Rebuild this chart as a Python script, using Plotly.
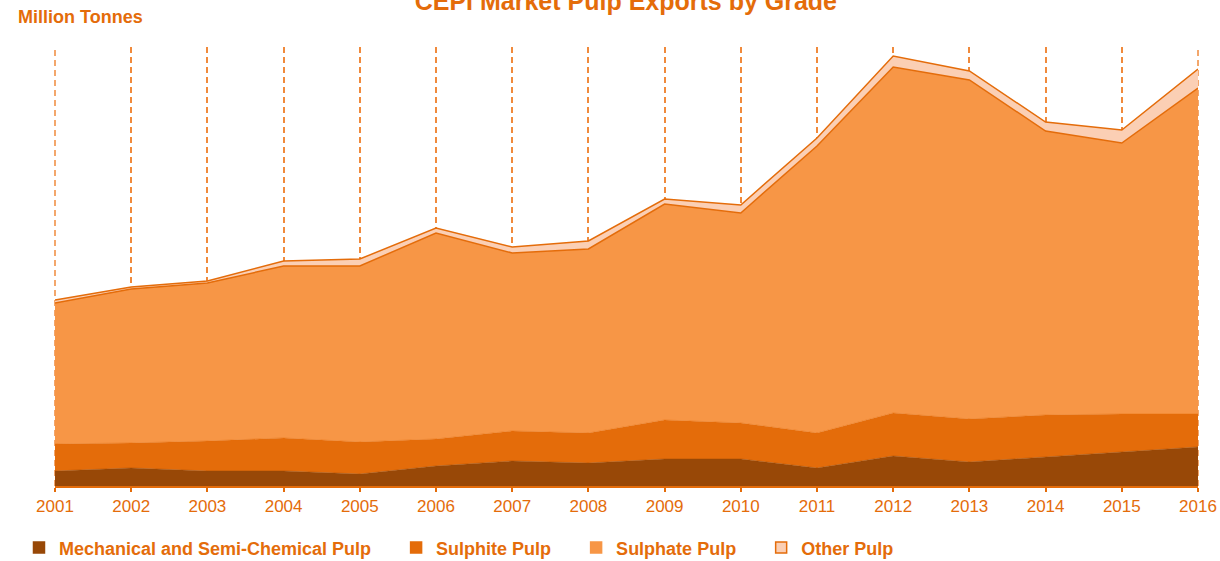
import plotly.graph_objects as go

years = list(range(2001, 2017))
mechanical = [0.15, 0.18, 0.15, 0.15, 0.12, 0.20, 0.25, 0.23, 0.27, 0.27, 0.18, 0.30, 0.24, 0.29, 0.34, 0.39]
sulphite = [0.27, 0.25, 0.30, 0.33, 0.32, 0.27, 0.30, 0.30, 0.39, 0.36, 0.35, 0.43, 0.43, 0.42, 0.38, 0.33]
sulphate = [1.41, 1.54, 1.58, 1.72, 1.76, 2.06, 1.78, 1.84, 2.16, 2.10, 2.87, 3.46, 3.39, 2.84, 2.71, 3.26]
other = [0.03, 0.02, 0.02, 0.05, 0.07, 0.05, 0.06, 0.08, 0.05, 0.08, 0.08, 0.11, 0.09, 0.09, 0.13, 0.19]

names = ["Mechanical and Semi-Chemical Pulp", "Sulphite Pulp", "Sulphate Pulp", "Other Pulp"]
fills = ["#984807", "#E46C0A", "#F79646", "#FBCFB4"]
lines = ["#984807", "#E46C0A", "#E46C0A", "#E46C0A"]
widths = [0.5, 0.5, 1.5, 1.5]
series = [mechanical, sulphite, sulphate, other]

ORANGE = "#E46C0A"
GRID = "#F08A3C"
DASH = "6px,4px"
FONT = "Liberation Sans, Arial, sans-serif"
PAD = "&nbsp;" * 4

fig = go.Figure()
for nm, vals, fc, lc, w in zip(names, series, fills, lines, widths):
    fig.add_trace(go.Scatter(
        x=years, y=vals, name=nm, mode="lines", stackgroup="one",
        fillcolor=fc, line=dict(color=lc, width=w), showlegend=False,
        hoverinfo="x+y+name"))
for nm, fc, lc in zip(names, fills, lines):
    fig.add_trace(go.Scatter(
        x=[None], y=[None], name="<b>" + nm + "</b>" + PAD, mode="markers",
        marker=dict(symbol="square", size=11, color=fc,
                    line=dict(color=lc if nm == "Other Pulp" else fc, width=1.5)),
        showlegend=True))

# edge gridlines at the plot's left and right borders (plotly drops them)
for xp in (0, 1):
    fig.add_shape(type="line", xref="paper", yref="paper", x0=xp, x1=xp, y0=0, y1=1,
                  layer="below", line=dict(color=GRID, width=1.5, dash=DASH))

fig.update_layout(
    width=1220, height=561,
    margin=dict(l=55, r=22, t=47, b=75, autoexpand=False),
    paper_bgcolor="white", plot_bgcolor="white",
    font=dict(family=FONT, color=ORANGE),
    title=dict(text="<b>CEPI Market Pulp Exports by Grade</b>",
               font=dict(size=25, color=ORANGE, family=FONT),
               x=0.513, xanchor="center", y=0.998, yanchor="middle"),
    showlegend=True,
    legend=dict(orientation="h", traceorder="normal", x=-0.0315, xanchor="left",
                y=-0.141, yanchor="middle",
                font=dict(size=18, color=ORANGE, family=FONT),
                bgcolor="rgba(0,0,0,0)", itemclick=False),
    annotations=[dict(text="<b>Million Tonnes</b>", xref="paper", yref="paper",
                      x=-0.0345, y=1.068, xanchor="left", yanchor="middle",
                      showarrow=False, font=dict(size=18, color=ORANGE, family=FONT))],
)
fig.update_xaxes(
    range=[years[0], years[-1]], tickmode="array", tickvals=years,
    ticktext=[str(y) for y in years], automargin=False,
    tickfont=dict(size=17, color=ORANGE, family=FONT),
    showgrid=True, gridcolor=GRID, gridwidth=1.5, griddash=DASH,
    showline=True, linecolor=ORANGE, linewidth=2,
    ticks="outside", ticklen=4, tickcolor=ORANGE, tickwidth=1.5,
    zeroline=False, fixedrange=True)
fig.update_yaxes(range=[0, 4.39], visible=False, showgrid=False, zeroline=False,
                 fixedrange=True, automargin=False)

fig.write_html("out.html", config={"displayModeBar": False},
               post_script="document.body.style.margin='0px';")
